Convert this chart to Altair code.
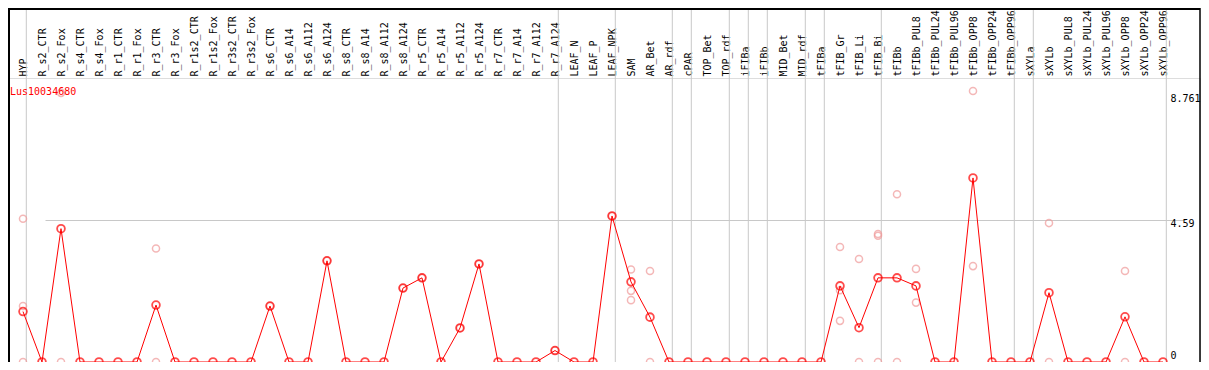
import altair as alt
import pandas as pd

gene = "Lus10034680"

cats = ["HYP", "R_s2_CTR", "R_s2_Fox", "R_s4_CTR", "R_s4_Fox", "R_r1_CTR", "R_r1_Fox",
        "R_r3_CTR", "R_r3_Fox", "R_r1s2_CTR", "R_r1s2_Fox", "R_r3s2_CTR", "R_r3s2_Fox",
        "R_s6_CTR", "R_s6_A14", "R_s6_A112", "R_s6_A124", "R_s8_CTR", "R_s8_A14",
        "R_s8_A112", "R_s8_A124", "R_r5_CTR", "R_r5_A14", "R_r5_A112", "R_r5_A124",
        "R_r7_CTR", "R_r7_A14", "R_r7_A112", "R_r7_A124", "LEAF_N", "LEAF_P", "LEAF_NPK",
        "SAM", "AR_Bet", "AR_rdf", "cPAR", "TOP_Bet", "TOP_rdf", "iFIBa", "iFIBb",
        "MID_Bet", "MID_rdf", "tFIBa", "tFIB_Gr", "tFIB_Li", "tFIB_Bi", "tFIBb",
        "tFIBb_PUL8", "tFIBb_PUL24", "tFIBb_PUL96", "tFIBb_OPP8", "tFIBb_OPP24",
        "tFIBb_OPP96", "sXYLa", "sXYLb", "sXYLb_PUL8", "sXYLb_PUL24", "sXYLb_PUL96",
        "sXYLb_OPP8", "sXYLb_OPP24", "sXYLb_OPP96"]

means = [1.63, 0, 4.31, 0, 0, 0, 0,
         1.84, 0, 0, 0, 0, 0,
         1.81, 0, 0, 3.27, 0, 0,
         0, 2.39, 2.72, 0, 1.10, 3.17,
         0, 0, 0, 0.37, 0, 0, 4.72,
         2.59, 1.45, 0, 0, 0, 0, 0, 0,
         0, 0, 0, 2.46, 1.11, 2.72, 2.72,
         2.46, 0, 0, 5.95, 0,
         0, 0, 2.24, 0, 0, 0,
         1.46, 0, 0]

rep_cats = ["HYP", "HYP", "HYP", "R_s2_Fox", "R_s2_Fox", "R_r3_CTR", "R_r3_CTR",
            "R_s6_CTR", "R_s6_A124", "R_s8_A124", "R_r5_CTR", "R_r5_A112", "R_r5_A124",
            "R_r7_A124", "LEAF_NPK",
            "SAM", "SAM", "SAM", "AR_Bet", "AR_Bet",
            "tFIB_Gr", "tFIB_Gr", "tFIB_Gr", "tFIB_Li", "tFIB_Li",
            "tFIB_Bi", "tFIB_Bi", "tFIB_Bi", "tFIBb", "tFIBb",
            "tFIBb_PUL8", "tFIBb_PUL8", "tFIBb_OPP8", "tFIBb_OPP8",
            "sXYLb", "sXYLb", "sXYLb_OPP8", "sXYLb_OPP8"]
rep_vals = [4.63, 1.81, 0, 8.70, 0, 3.67, 0,
            1.81, 3.27, 2.39, 2.72, 1.10, 3.17,
            0.37, 4.72,
            2.99, 2.30, 2.00, 2.94, 0,
            3.72, 2.32, 1.33, 3.33, 0,
            4.08, 4.14, 0, 5.42, 0,
            3.01, 1.92, 8.761, 3.10,
            4.49, 0, 2.94, 0]

sep_after = ["HYP", "R_r7_A124", "LEAF_NPK", "AR_rdf", "cPAR", "TOP_rdf", "iFIBa",
             "iFIBb", "MID_rdf", "tFIBa", "tFIB_Bi", "tFIBb_OPP96", "sXYLa", "sXYLb_OPP96"]
y_ticks = [0, 4.59, 8.761]

W = 1192
H = 284
HEAD = 70
X0 = 15
STEP = 19
FONT = "DejaVu Sans Mono"

df_mean = pd.DataFrame({"tissue": cats, "value": means, "order": list(range(len(cats)))})
df_rep = pd.DataFrame({"tissue": rep_cats, "value": rep_vals})
df_sep = pd.DataFrame({"tissue": sep_after})
df_first = pd.DataFrame({"tissue": [cats[0]]})
df_gene = pd.DataFrame({"gene": [gene]})

x_scale = alt.Scale(type="point", domain=cats, padding=0,
                    range=[X0, X0 + STEP * (len(cats) - 1)])
y_scale = alt.Scale(domain=[0, 9.18], nice=False, zero=True)

x_axis = alt.Axis(orient="top", labelAngle=270, labelAlign="left", labelBaseline="alphabetic",
                  labelOffset=3.3, labelPadding=2, ticks=False, domain=False, grid=False,
                  title=None, labelFont=FONT, labelFontSize=10, labelColor="black",
                  labelOverlap=False, labelLimit=0)
y_axis = alt.Axis(orient="right", values=y_ticks, labelExpr="'' + datum.value", labelAlign="left",
                  labelPadding=-30, ticks=False, domain=False, grid=True, gridColor="#c8c8c8",
                  gridOpacity={"condition": {"test": "abs(datum.value - 4.59) < 0.01", "value": 1}, "value": 0},
                  labelBaseline={"condition": {"test": "datum.value == 0", "value": "bottom"}, "value": "top"},
                  labelOffset={"condition": {"test": "datum.value > 8", "value": 3}, "value": -2},
                  title=None, labelFont=FONT, labelFontSize=10, labelColor="black")

x_enc = alt.X("tissue:N", scale=x_scale, axis=x_axis, sort=cats)
y_enc = alt.Y("value:Q", scale=y_scale, axis=y_axis)

seps = alt.Chart(df_sep).mark_rule(color="#c8c8c8", strokeWidth=1, xOffset=3.3).encode(
    x=x_enc, y=alt.value(-HEAD), y2=alt.value(H))
sep0 = alt.Chart(df_first).mark_rule(color="#c8c8c8", strokeWidth=1, xOffset=3.3 - STEP).encode(
    x=x_enc, y=alt.value(-HEAD), y2=alt.value(H))

frame = alt.Chart(df_gene)
top_line = frame.mark_rule(color="black", strokeWidth=2).encode(
    x=alt.value(0), x2=alt.value(W), y=alt.value(-HEAD + 1))
left_line = frame.mark_rule(color="black", strokeWidth=2).encode(
    x=alt.value(1), y=alt.value(-HEAD), y2=alt.value(H))
right_line = frame.mark_rule(color="black", strokeWidth=1.5).encode(
    x=alt.value(W), y=alt.value(-HEAD), y2=alt.value(H))

reps = alt.Chart(df_rep).mark_point(shape="circle", filled=False, color="#f09a9a",
                                     size=50, strokeWidth=1.5).encode(x=x_enc, y=y_enc)
line = alt.Chart(df_mean).mark_line(color="red", strokeWidth=1).encode(
    x=x_enc, y=y_enc, order=alt.Order("order:Q"))
pts = alt.Chart(df_mean).mark_point(shape="circle", filled=False, color="red",
                                     size=60, strokeWidth=1.8).encode(x=x_enc, y=y_enc)
title = frame.mark_text(align="left", baseline="alphabetic", font=FONT, fontSize=10,
                        color="red").encode(x=alt.value(2), y=alt.value(17), text="gene:N")

chart = alt.layer(seps, sep0, top_line, left_line, right_line, reps, line, pts, title).properties(
    width=W, height=H,
    padding={"top": HEAD, "left": 0, "right": 1, "bottom": 0},
    autosize=alt.AutoSizeParams(type="none"),
).configure_view(stroke="black", strokeWidth=1).configure(background="white")

chart.save("out.html", embed_options={"renderer": "svg", "actions": False})
